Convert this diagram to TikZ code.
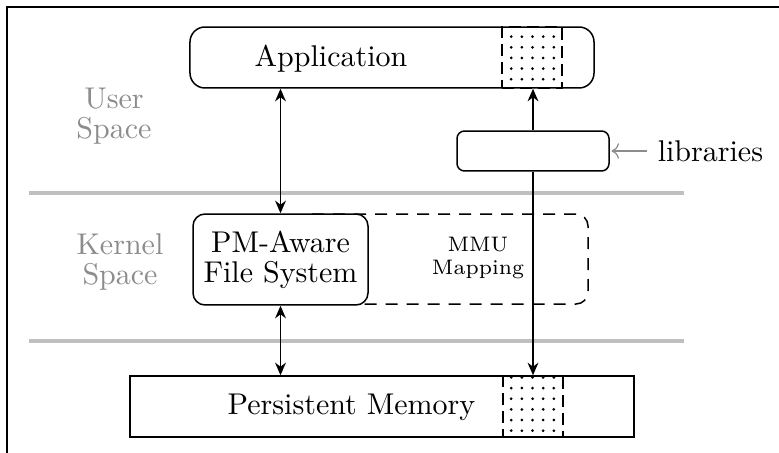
\documentclass[tikz,border=0pt]{standalone}
\usetikzlibrary{arrows.meta,patterns.meta}
\begin{document}
\begin{tikzpicture}[x=0.33333pt,y=-0.33333pt, line width=0.5pt,
  rbox/.style={draw, fill=white, inner sep=0pt},
  dotbox/.style={draw, dash pattern=on 4pt off 2pt, inner sep=0pt,
    pattern={Dots[radius=0.5pt,distance=3.55pt]}},
  sepline/.style={line width=1.3pt, draw=black!25},
  spacelabel/.style={text=black!45, align=center},
  dbl/.style={{Stealth[length=4.2pt,width=3.6pt]}-{Stealth[length=4.2pt,width=3.6pt]}},
  sgl/.style={-{Stealth[length=4.2pt,width=3.6pt]}},
  dashbox/.style={draw, dash pattern=on 4pt off 3pt, inner sep=0pt}
]
\useasboundingbox (0,0) rectangle (779,452);
% frame
\coordinate (f1) at (7,460);
\coordinate (f2) at (7,7);
\coordinate (f3) at (790,7);
\draw[line width=0.45pt] (f1) -- (f2) -- (f3);

% separators
\coordinate (s1a) at (29,193);
\coordinate (s1b) at (684,193);
\coordinate (s2a) at (29,341);
\coordinate (s2b) at (684,341);
\draw[sepline] (s1a) -- (s1b);
\draw[sepline] (s2a) -- (s2b);

% space labels
\node[spacelabel] (user) at (114,116) {User\\[-2pt]Space};
\node[spacelabel] (kernel) at (120,262) {Kernel\\[-2pt]Space};

% application
\node[rbox, rounded corners=5pt, minimum width=134.67pt, minimum height=20.33pt] (app) at (392,57.5) {};
\node (apptxt) at (331,58.5) {Application};
\node[dotbox, minimum width=20pt, minimum height=20.33pt] (appdots) at (532,57.5) {};

% libraries
\node[rbox, rounded corners=2.5pt, minimum width=50.67pt, minimum height=13.33pt] (lib) at (533,151) {};
\node[anchor=west] (libtxt) at (647,151) {libraries};
\draw[->, draw=black!45, line width=0.4pt, shorten >=0.6pt] (libtxt.west) -- (lib.east);

% MMU mapping
\node[dashbox, rounded corners=4pt, minimum width=96pt, minimum height=30pt] (mmu) at (444,259) {};
\node[font=\scriptsize, align=center] (mmutxt) at (478,258) {MMU\\[-0.5pt]Mapping};

% file system
\node[rbox, rounded corners=4pt, minimum width=58.33pt, minimum height=30.33pt, align=center] (fs) at (280.5,259.5) {PM-Aware\\[-2pt]File System};

% persistent memory
\node[rbox, minimum width=168pt, minimum height=20.33pt] (pm) at (382,406.5) {};
\node (pmtxt) at (351.5,407.5) {Persistent Memory};
\node[dotbox, minimum width=20pt, minimum height=20.33pt] (pmdots) at (533,406.5) {};

% connectors
\draw[dbl] (fs.north) -- (fs.north |- app.south);
\draw[dbl] (fs.south) -- (fs.south |- pm.north);
\draw[sgl] (lib.north) -- (lib.north |- app.south);
\draw[sgl] (lib.south) -- (lib.south |- pm.north);
\end{tikzpicture}
\end{document}
